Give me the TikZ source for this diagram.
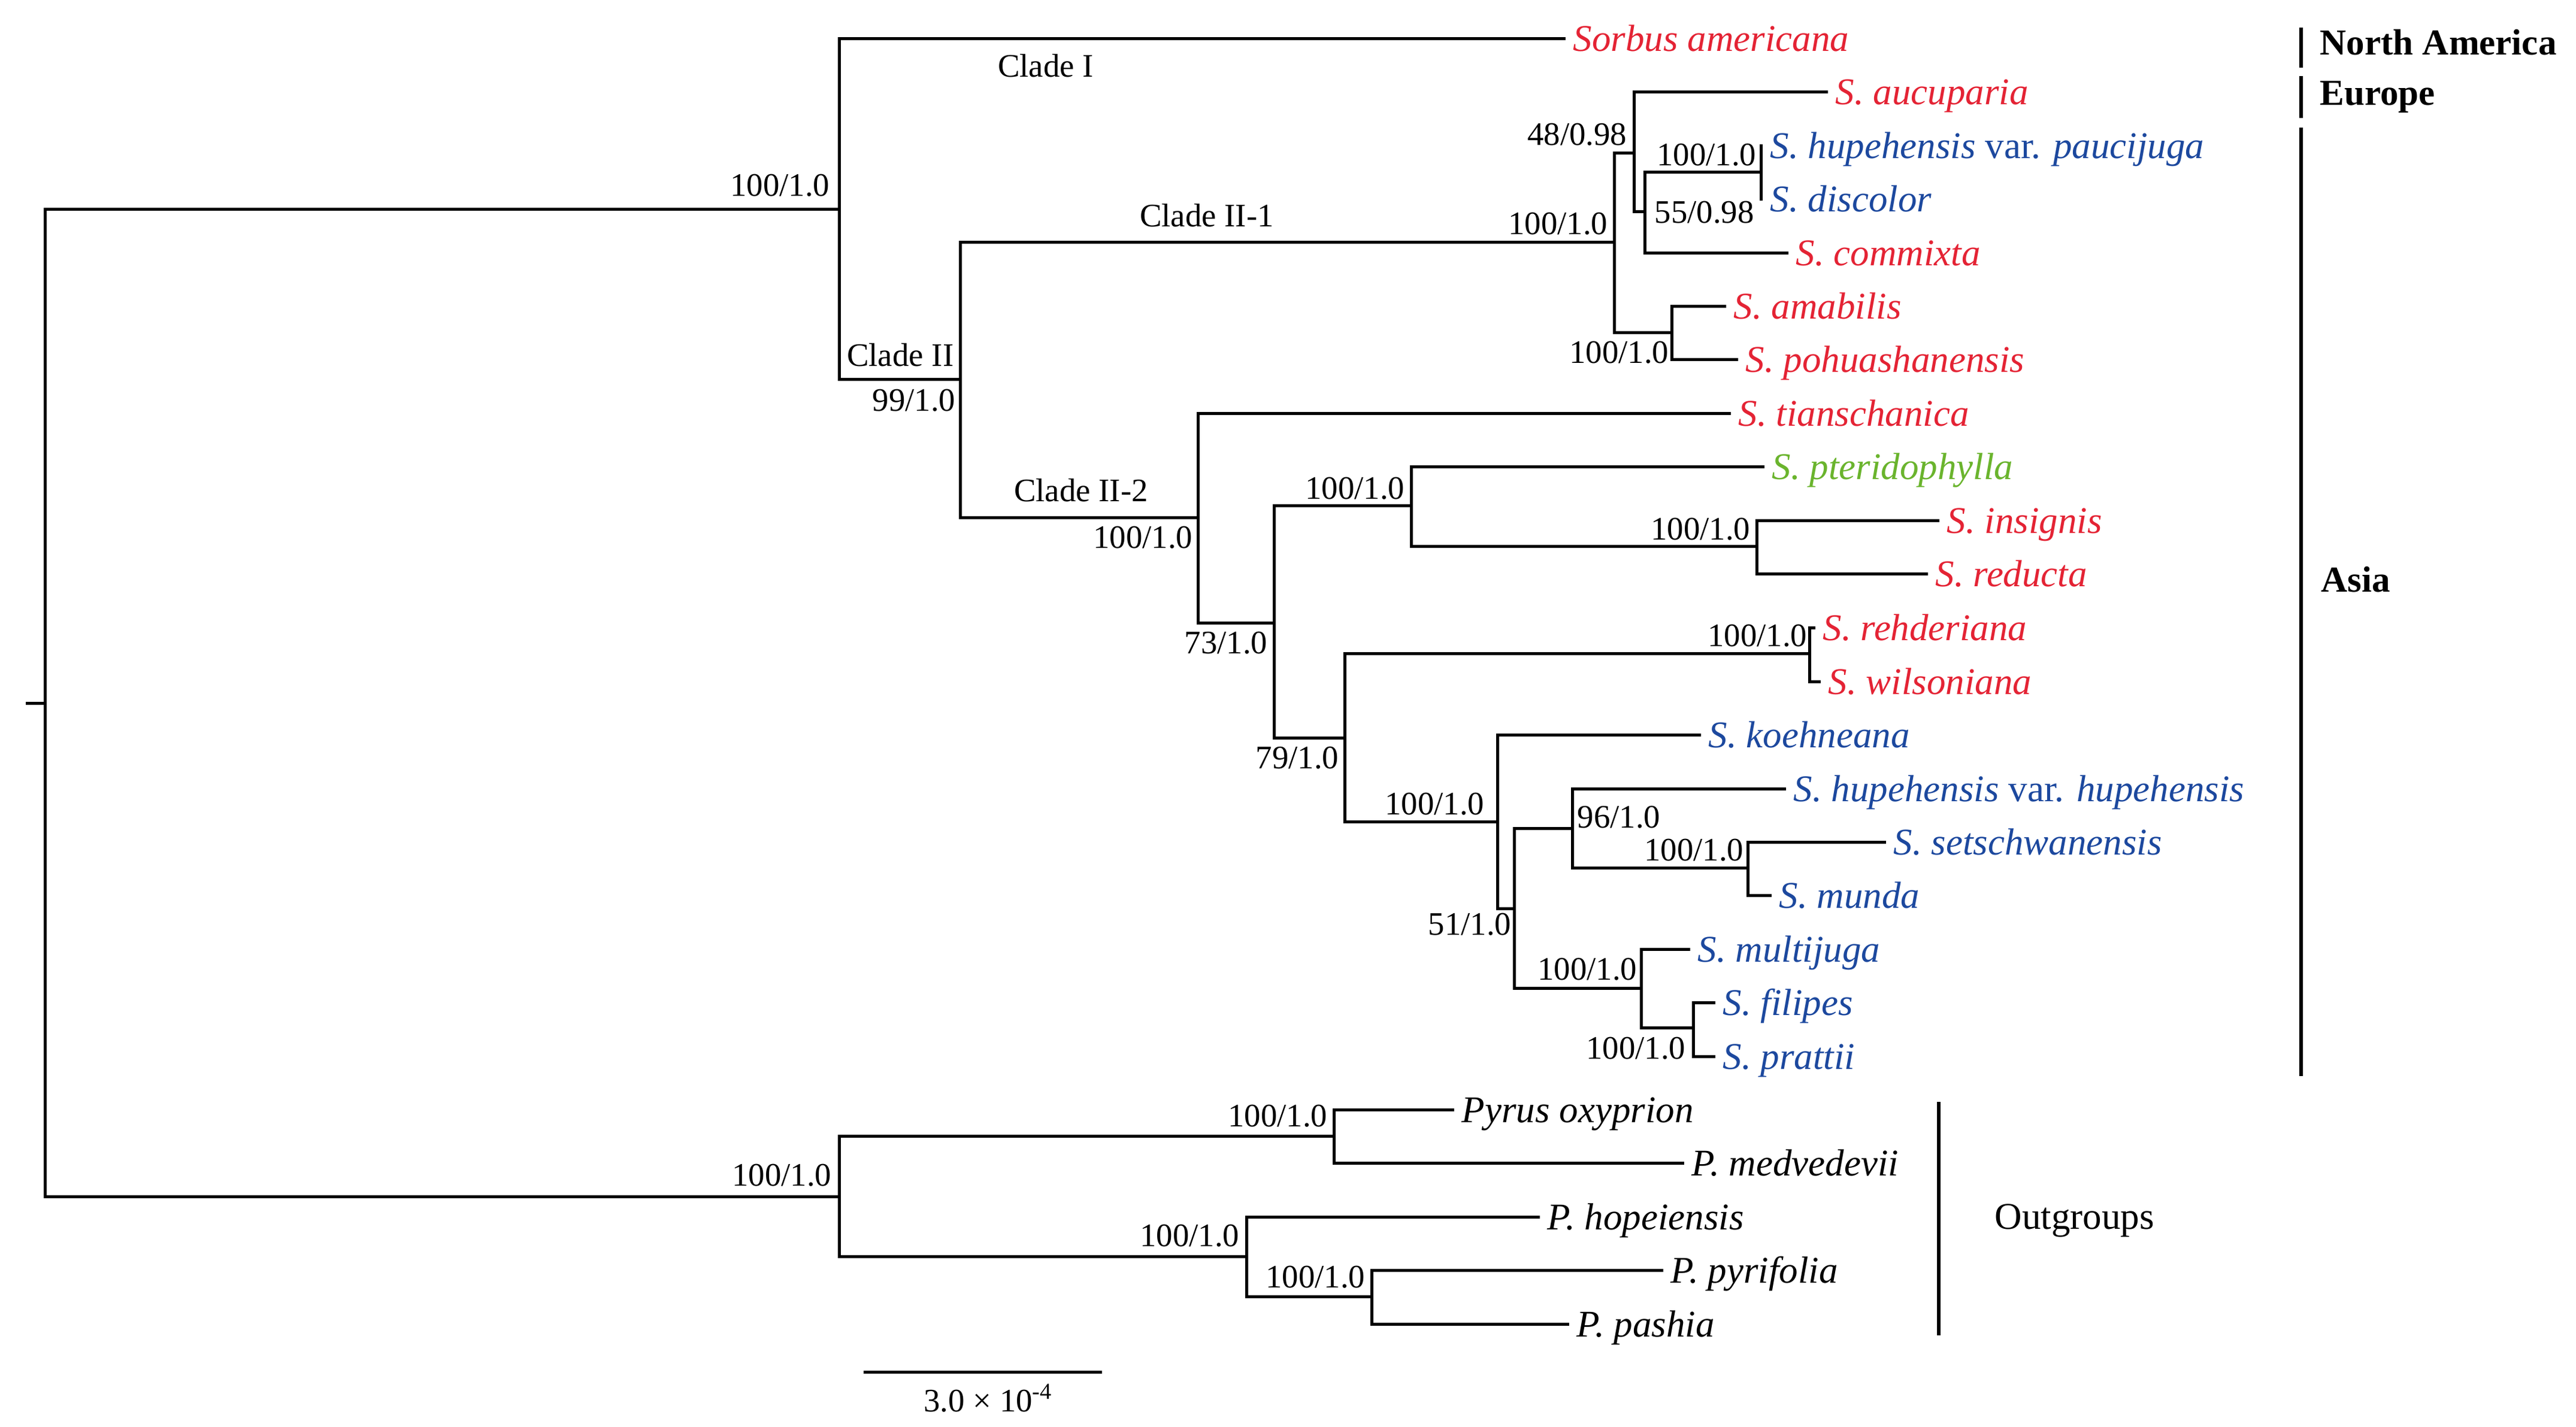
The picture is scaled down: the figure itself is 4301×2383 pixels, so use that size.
\documentclass[tikz,border=0pt]{standalone}
\usepackage{fontspec}
\setmainfont{Liberation Serif}
\definecolor{sred}{RGB}{228,35,52}
\definecolor{sblue}{RGB}{28,72,158}
\definecolor{sgreen}{RGB}{106,180,45}
\tikzset{
  br/.style={line width=1.25pt, line cap=rect, line join=miter},
  bar/.style={line width=1.5pt},
  sp/.style={anchor=west, inner xsep=3.75pt, inner ysep=0pt, text height=10.5pt, text depth=0pt,
             font=\fontsize{15.75}{18}\selectfont\itshape},
  bs/.style={anchor=base east, inner sep=0pt, font=\fontsize{13.7}{16}\selectfont},
  bsw/.style={anchor=base west, inner sep=0pt, font=\fontsize{13.7}{16}\selectfont},
  cl/.style={anchor=base, inner sep=0pt, font=\fontsize{13.7}{16}\selectfont},
  rg/.style={anchor=base west, inner sep=0pt, font=\fontsize{15.25}{18}\selectfont\bfseries},
}
\begin{document}
\begin{tikzpicture}[x=0.25pt, y=-0.25pt]
\useasboundingbox (0,0) rectangle (4301,2383);

% internal nodes
\coordinate (R0) at (45,1174);
\coordinate (R) at (75,1174);
\coordinate (A) at (1401,350);
\coordinate (B) at (1603,634);
\coordinate (C) at (2695,405);
\coordinate (E) at (2728,256);
\coordinate (G) at (2746,354);
\coordinate (H) at (2940,288);
\coordinate (F) at (2791,556);
\coordinate (D) at (2000,865);
\coordinate (I) at (2127,1040);
\coordinate (J) at (2356,845);
\coordinate (L) at (2933,913);
\coordinate (K) at (2245,1232);
\coordinate (M) at (3021,1091);
\coordinate (N) at (2500,1372);
\coordinate (O) at (2528,1517);
\coordinate (P) at (2625,1383);
\coordinate (S) at (2918,1449);
\coordinate (Q) at (2740,1650);
\coordinate (T) at (2827,1716);
\coordinate (U) at (1401,1998);
\coordinate (V) at (2227,1897);
\coordinate (W) at (2081,2098);
\coordinate (X) at (2290,2165);

% tips
\node[sp, text=sred]   (sam) at (2611,65)   {Sorbus americana};
\node[sp, text=sred]   (sau) at (3049,154)  {S. aucuparia};
\node[sp, text=sblue]  (spa) at (2940,244)  {S. hupehensis \textup{var.} paucijuga};
\node[sp, text=sblue]  (sdi) at (2940,333)  {S. discolor};
\node[sp, text=sred]   (sco) at (2983,423)  {S. commixta};
\node[sp, text=sred]   (sab) at (2879,512)  {S. amabilis};
\node[sp, text=sred]   (spo) at (2899,601)  {S. pohuashanensis};
\node[sp, text=sred]   (sti) at (2887,691)  {S. tianschanica};
\node[sp, text=sgreen] (spt) at (2943,780)  {S. pteridophylla};
\node[sp, text=sred]   (sin) at (3235,870)  {S. insignis};
\node[sp, text=sred]   (sre) at (3216,959)  {S. reducta};
\node[sp, text=sred]   (srh) at (3028,1048) {S. rehderiana};
\node[sp, text=sred]   (swi) at (3037,1138) {S. wilsoniana};
\node[sp, text=sblue]  (sko) at (2837,1227) {S. koehneana};
\node[sp, text=sblue]  (shu) at (2979,1317) {S. hupehensis \textup{var.} hupehensis};
\node[sp, text=sblue]  (sse) at (3146,1406) {S. setschwanensis};
\node[sp, text=sblue]  (smu) at (2955,1495) {S. munda};
\node[sp, text=sblue]  (smj) at (2819,1585) {S. multijuga};
\node[sp, text=sblue]  (sfi) at (2861,1674) {S. filipes};
\node[sp, text=sblue]  (spr) at (2861,1764) {S. prattii};
\node[sp] (pox) at (2425,1853) {Pyrus oxyprion};
\node[sp] (pme) at (2809,1942) {P. medvedevii};
\node[sp] (pho) at (2568,2032) {P. hopeiensis};
\node[sp] (ppy) at (2774,2121) {P. pyrifolia};
\node[sp] (ppa) at (2617,2211) {P. pashia};

% branches
\draw[br] (R0) -- (R);
\draw[br] (R) |- (A);
\draw[br] (R) |- (U);
\draw[br] (A) |- (sam.west);
\draw[br] (A) |- (B);
\draw[br] (B) |- (C);
\draw[br] (B) |- (D);
\draw[br] (C) |- (E);
\draw[br] (C) |- (F);
\draw[br] (E) |- (sau.west);
\draw[br] (E) |- (G);
\draw[br] (G) |- (H);
\draw[br] (G) |- (sco.west);
\draw[br] (H) |- (spa.west);
\draw[br] (H) |- (sdi.west);
\draw[br] (F) |- (sab.west);
\draw[br] (F) |- (spo.west);
\draw[br] (D) |- (sti.west);
\draw[br] (D) |- (I);
\draw[br] (I) |- (J);
\draw[br] (I) |- (K);
\draw[br] (J) |- (spt.west);
\draw[br] (J) |- (L);
\draw[br] (L) |- (sin.west);
\draw[br] (L) |- (sre.west);
\draw[br] (K) |- (M);
\draw[br] (K) |- (N);
\draw[br] (M) |- (srh.west);
\draw[br] (M) |- (swi.west);
\draw[br] (N) |- (sko.west);
\draw[br] (N) |- (O);
\draw[br] (O) |- (P);
\draw[br] (O) |- (Q);
\draw[br] (P) |- (shu.west);
\draw[br] (P) |- (S);
\draw[br] (S) |- (sse.west);
\draw[br] (S) |- (smu.west);
\draw[br] (Q) |- (smj.west);
\draw[br] (Q) |- (T);
\draw[br] (T) |- (sfi.west);
\draw[br] (T) |- (spr.west);
\draw[br] (U) |- (V);
\draw[br] (U) |- (W);
\draw[br] (V) |- (pox.west);
\draw[br] (V) |- (pme.west);
\draw[br] (W) |- (pho.west);
\draw[br] (W) |- (X);
\draw[br] (X) |- (ppy.west);
\draw[br] (X) |- (ppa.west);

% support values
\node[bs] (b1)  at (1386,328)  {100/1.0};
\node[bs] (b2)  at (1596,687)  {99/1.0};
\node[bs] (b3)  at (2685,392)  {100/1.0};
\node[bs] (b4)  at (2717,243)  {48/0.98};
\node[bs] (b5)  at (2933,277)  {100/1.0};
\node[bsw] (b6) at (2762,373)  {55/0.98};
\node[bs] (b7)  at (2787,607)  {100/1.0};
\node[bs] (b8)  at (1992,916)  {100/1.0};
\node[bs] (b9)  at (2117,1091) {73/1.0};
\node[bs] (b10) at (2346,834)  {100/1.0};
\node[bs] (b11) at (2923,902)  {100/1.0};
\node[bs] (b12) at (2236,1283) {79/1.0};
\node[bs] (b13) at (3018,1079) {100/1.0};
\node[bs] (b14) at (2479,1360) {100/1.0};
\node[bs] (b15) at (2524,1561) {51/1.0};
\node[bsw] (b16) at (2633,1382) {96/1.0};
\node[bs] (b17) at (2912,1437) {100/1.0};
\node[bs] (b18) at (2734,1636) {100/1.0};
\node[bs] (b19) at (2815,1768) {100/1.0};
\node[bs] (b20) at (1389,1980) {100/1.0};
\node[bs] (b21) at (2217,1881) {100/1.0};
\node[bs] (b22) at (2070,2081) {100/1.0};
\node[bs] (b23) at (2280,2150) {100/1.0};

% clade labels
\node[cl] (c1) at (1746,129) {Clade I};
\node[bs] (c2) at (1593,612) {Clade II};
\node[cl] (c3) at (2015,379) {Clade II-1};
\node[cl] (c4) at (1805,838) {Clade II-2};

% region bars
\coordinate (na1) at (3842,46);   \coordinate (na2) at (3842,113);
\coordinate (eu1) at (3842,127);  \coordinate (eu2) at (3842,197);
\coordinate (as1) at (3842,213);  \coordinate (as2) at (3842,1797);
\coordinate (og1) at (3237,1840); \coordinate (og2) at (3237,2230);
\draw[bar] (na1) -- (na2);
\draw[bar] (eu1) -- (eu2);
\draw[bar] (as1) -- (as2);
\draw[bar] (og1) -- (og2);
\node[rg] (rna) at (3873,92)  {North America};
\node[rg] (reu) at (3873,176) {Europe};
\node[rg] (ras) at (3875,989) {Asia};
\node[anchor=base west, inner sep=0pt, font=\fontsize{15.75}{18}\selectfont] (rog) at (3330,2052) {Outgroups};

% scale bar
\coordinate (sc1) at (1442,2291);
\coordinate (sc2) at (1840,2291);
\draw[br, line cap=butt] (sc1) -- (sc2);
\node[cl] (scl) at (1650,2357) {3.0 × 10\textsuperscript{-4}};
\end{tikzpicture}
\end{document}
